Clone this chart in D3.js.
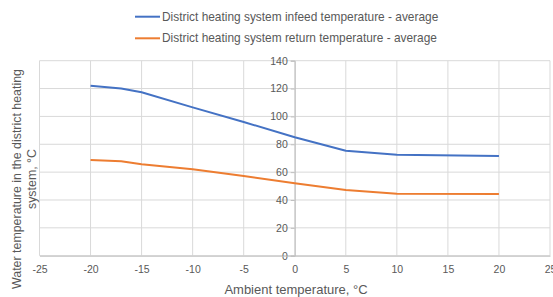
<!DOCTYPE html>
<html>
<head>
<meta charset="utf-8">
<script src="https://cdn.jsdelivr.net/npm/d3@7"></script>
<style>
  body { margin: 0; background: #fff; }
  text { font-family: "Liberation Sans", Arial, sans-serif; fill: #595959; }
</style>
</head>
<body>
<script>
// ambient temperature, °C
var ambient = [-20, -17, -15, -10, -5, 0, 5, 10, 20];
// water temperatures, °C
var infeed = [122, 120, 117.3, 106.5, 96, 85, 75.4, 72.5, 71.6];
var returnT = [68.7, 67.8, 65.6, 62, 57.2, 52, 47.2, 44.5, 44.3];
var xTicks = [-25, -20, -15, -10, -5, 0, 5, 10, 15, 20, 25];
var yTicks = [0, 20, 40, 60, 80, 100, 120, 140];
var seriesNames = ['District heating system infeed temperature - average',
                   'District heating system return temperature - average'];
var colors = ['#4472C4', '#ED7D31'];

var W = 553, H = 297;
var svg = d3.select('body').append('svg')
    .attr('width', W).attr('height', H);

var x = d3.scaleLinear().domain([-25, 25]).range([39.5, 550]);
var y = d3.scaleLinear().domain([0, 140]).range([255.7, 60.7]);

// gridlines
svg.append('g').selectAll('line').data(yTicks).join('line')
    .attr('x1', x(-25)).attr('x2', x(25))
    .attr('y1', d => y(d)).attr('y2', d => y(d))
    .attr('stroke', '#d9d9d9').attr('stroke-width', 1);
svg.append('g').selectAll('line').data(xTicks).join('line')
    .attr('x1', d => x(d)).attr('x2', d => x(d))
    .attr('y1', y(0)).attr('y2', y(140))
    .attr('stroke', '#d9d9d9').attr('stroke-width', 1);

// axes (y axis crosses at x = 0)
var yAxis = d3.axisLeft(y).tickValues(yTicks).tickSize(4).tickPadding(3)
    .tickFormat(d => String(d));
var gy = svg.append('g').attr('transform', 'translate(' + x(0) + ',0)').call(yAxis);
gy.select('.domain').attr('stroke', '#bfbfbf');
gy.selectAll('.tick line').attr('stroke', '#bfbfbf');
gy.selectAll('text').style('font-size', '10.5px').attr('fill', '#595959');

var xAxis = d3.axisBottom(x).tickValues(xTicks).tickSize(0).tickPadding(10)
    .tickFormat(d => String(d));
var gx = svg.append('g').attr('transform', 'translate(0,' + y(0) + ')').call(xAxis);
gx.select('.domain').attr('stroke', '#bfbfbf');
gx.selectAll('text').style('font-size', '10.5px').attr('fill', '#595959');

// lines
var line = d3.line().x(d => x(d[0])).y(d => y(d[1]));
[infeed, returnT].forEach(function (vals, i) {
  svg.append('path')
      .datum(ambient.map((a, j) => [a, vals[j]]))
      .attr('fill', 'none')
      .attr('stroke', colors[i])
      .attr('stroke-width', 2)
      .attr('stroke-linejoin', 'round')
      .attr('d', line);
});

// legend
var lg = svg.append('g').selectAll('g').data(seriesNames).join('g')
    .attr('transform', (d, i) => 'translate(135,' + (16.7 + i * 21.6) + ')');
lg.append('line').attr('x1', 0).attr('x2', 25)
    .attr('stroke', (d, i) => colors[i]).attr('stroke-width', 2);
lg.append('text').attr('x', 27).attr('dy', '0.35em')
    .style('font-size', '11.9px').text(d => d);

// axis titles
svg.append('text')
    .attr('x', 296).attr('y', 294)
    .attr('text-anchor', 'middle').style('font-size', '13px')
    .text('Ambient temperature, °C');

var yt = svg.append('text')
    .attr('transform', 'translate(0,179) rotate(-90)')
    .attr('text-anchor', 'middle').style('font-size', '12.4px');
yt.append('tspan').attr('x', 0).attr('y', 21).text('Water temperature in the district heating');
yt.append('tspan').attr('x', 0).attr('y', 36).text('system, °C');
</script>
</body>
</html>
